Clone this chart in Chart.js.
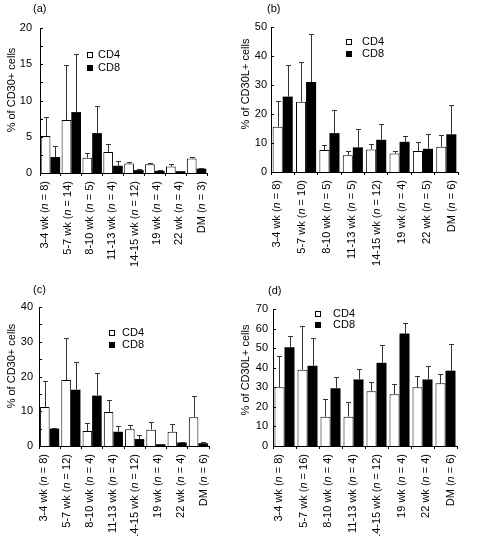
<!DOCTYPE html>
<html>
<head>
<meta charset="utf-8">
<script src="https://cdn.jsdelivr.net/npm/chart.js@4.4.1/dist/chart.umd.min.js"></script>
<style>
  html, body { margin: 0; padding: 0; background: #fff; }
  #wrap { position: relative; width: 480px; height: 536px; }
  .panel { position: absolute; width: 240px; height: 268px; }
</style>
</head>
<body>
<div id="wrap">
  <div class="panel" style="left:0;top:0"><canvas id="pa" width="240" height="268"></canvas></div>
  <div class="panel" style="left:240px;top:0"><canvas id="pb" width="240" height="268"></canvas></div>
  <div class="panel" style="left:0;top:268px"><canvas id="pc" width="240" height="268"></canvas></div>
  <div class="panel" style="left:240px;top:268px"><canvas id="pd" width="240" height="268"></canvas></div>
</div>
<script>
// groups (x categories) and n per panel
const groups = ["3-4 wk", "5-7 wk", "8-10 wk", "11-13 wk", "14-15 wk", "19 wk", "22 wk", "DM"];
const nA = [8, 14, 5, 4, 12, 4, 4, 3];
const nB = [8, 10, 5, 5, 12, 4, 5, 6];
const nC = [8, 12, 4, 4, 12, 4, 4, 6];
const nD = [8, 16, 4, 4, 12, 4, 4, 6];

// (a) % of CD30+ cells
const cd4A = [5.1, 7.3, 2.1, 2.9, 1.3, 1.2, 0.9, 2.0];
const cd4SdA = [2.6, 7.6, 0.7, 1.1, 0.2, 0.2, 0.4, 0.2];
const cd8A = [2.2, 8.4, 5.5, 1.0, 0.4, 0.3, 0.25, 0.6];
const cd8SdA = [1.5, 8.0, 3.8, 0.6, 0.1, 0.05, 0.05, 0.1];

// (b) % of CD30L+ cells
const cd4B = [15.6, 24.2, 7.6, 5.8, 7.8, 6.4, 7.2, 8.7];
const cd4SdB = [8.9, 13.6, 1.7, 1.5, 2.0, 1.0, 3.0, 4.0];
const cd8B = [26.0, 31.0, 13.4, 8.5, 11.1, 10.4, 8.0, 13.0];
const cd8SdB = [11.0, 16.5, 8.1, 6.4, 5.3, 2.0, 5.1, 10.1];

// (c) % of CD30+ cells
const cd4C = [11.2, 19.0, 4.3, 9.8, 4.8, 4.7, 4.1, 8.3];
const cd4SdC = [7.5, 12.2, 2.3, 3.3, 1.1, 2.3, 2.3, 6.0];
const cd8C = [5.0, 16.2, 14.5, 4.1, 2.0, 0.5, 1.0, 0.8];
const cd8SdC = [0.3, 8.0, 6.6, 1.7, 1.2, 0.1, 0.2, 0.4];

// (d) % of CD30L+ cells
const cd4D = [30, 39, 15, 15, 28, 26.5, 30, 32];
const cd4SdD = [16, 22.5, 9, 7.5, 4.5, 5, 6, 5];
const cd8D = [50.5, 41, 29.5, 34, 42.5, 57.5, 34, 38.5];
const cd8SdD = [5.5, 14, 6, 5.5, 9, 5.5, 7, 13.5];

const FONT = '"Liberation Sans", Arial, Helvetica, sans-serif';
Chart.defaults.font.family = FONT;
Chart.defaults.font.size = 11;
Chart.defaults.color = '#000';

// error bars, inward y ticks, and all the extra text
const panelPlugin = {
  id: 'panel',
  afterDatasetsDraw(chart, args, opts) {
    const ctx = chart.ctx;
    const y = chart.scales.y;
    ctx.save();
    ctx.strokeStyle = '#333';
    ctx.lineWidth = 1;
    opts.errors.forEach((err, d) => {
      const vals = chart.data.datasets[d].data;
      chart.getDatasetMeta(d).data.forEach((bar, i) => {
        const top = Math.round(y.getPixelForValue(vals[i] + err[i])) + 0.5;
        const x = Math.round(bar.x) + 0.5;
        ctx.beginPath();
        ctx.moveTo(x, bar.y);
        ctx.lineTo(x, top);
        ctx.moveTo(x - 2.5, top);
        ctx.lineTo(x + 2.5, top);
        ctx.stroke();
      });
    });
    ctx.restore();
  },
  afterDraw(chart, args, opts) {
    const ctx = chart.ctx;
    const area = chart.chartArea;
    const y = chart.scales.y;
    const xs = chart.scales.x;
    ctx.save();
    ctx.fillStyle = '#000';
    ctx.strokeStyle = '#000';

    // inward y ticks
    ctx.lineWidth = 1;
    y.ticks.forEach(t => {
      const py = Math.round(y.getPixelForValue(t.value)) + 0.5;
      ctx.beginPath();
      ctx.moveTo(area.left, py);
      ctx.lineTo(area.left + 3, py);
      ctx.stroke();
    });

    // panel letter
    ctx.font = '11px ' + FONT;
    ctx.textAlign = 'left';
    ctx.textBaseline = 'middle';
    ctx.fillText(opts.letter, opts.letterPos[0], opts.letterPos[1]);

    // y title
    ctx.save();
    ctx.translate(opts.titlePos[0], opts.titlePos[1]);
    ctx.rotate(-Math.PI / 2);
    ctx.textAlign = 'center';
    ctx.fillText(opts.title, 0, 0);
    ctx.restore();

    // legend
    const lg = opts.legend;
    [['CD4', '#fff'], ['CD8', '#000']].forEach(([name, fill], k) => {
      const cy = lg.y[k];
      ctx.fillStyle = fill;
      ctx.fillRect(lg.x, cy - 3, 6, 6);
      ctx.strokeStyle = '#000';
      ctx.strokeRect(lg.x + 0.5, cy - 2.5, 5, 5);
      ctx.fillStyle = '#000';
      ctx.font = '11px ' + FONT;
      ctx.textAlign = 'left';
      ctx.fillText(name, lg.textX, cy);
    });

    // rotated x labels with italic n
    groups.forEach((g, i) => {
      const x = xs.getPixelForValue(i) + (i - 3.5) * opts.spread;
      const parts = [[g + ' (', 'normal'], ['n', 'italic'], [' = ' + opts.n[i] + ')', 'normal']];
      let total = 0;
      parts.forEach(([t, st]) => { ctx.font = st + ' 11px ' + FONT; total += ctx.measureText(t).width; });
      ctx.save();
      ctx.translate(Math.round(x), area.bottom + 8);
      ctx.rotate(-Math.PI / 2);
      ctx.textAlign = 'left';
      ctx.textBaseline = 'middle';
      let cx = -total;
      parts.forEach(([t, st]) => {
        ctx.font = st + ' 11px ' + FONT;
        ctx.fillText(t, cx, 0);
        cx += ctx.measureText(t).width;
      });
      ctx.restore();
    });
    ctx.restore();
  }
};

function makePanel(id, p) {
  const H = 268, W = 240;
  new Chart(document.getElementById(id), {
    type: 'bar',
    data: {
      labels: groups,
      datasets: [
        { label: 'CD4', data: p.cd4, backgroundColor: '#fff', borderColor: '#000', borderWidth: 1,
          categoryPercentage: p.catPct, barPercentage: 1 },
        { label: 'CD8', data: p.cd8, backgroundColor: '#000', borderColor: '#000', borderWidth: 0,
          categoryPercentage: p.catPct, barPercentage: 1 }
      ]
    },
    options: {
      responsive: false,
      animation: false,
      events: [],
      layout: { padding: { left: 0, top: p.area.top, right: W - p.area.right, bottom: 0 } },
      scales: {
        x: {
          grid: { display: true, drawOnChartArea: false, drawTicks: true, tickLength: 3, color: '#000', offset: true },
          border: { display: true, color: '#000', width: 1 },
          ticks: { display: false },
          afterFit: s => { s.height = H - p.area.bottom; }
        },
        y: {
          min: 0,
          max: p.max,
          grid: { display: false, drawTicks: false },
          border: { display: true, color: '#000', width: 1 },
          ticks: {
            stepSize: p.step,
            padding: p.tickPad,
            callback: v => (v % p.labelEvery === 0 ? v : '')
          },
          afterFit: s => { s.width = p.area.left; }
        }
      },
      plugins: {
        legend: { display: false },
        tooltip: { enabled: false },
        panel: {
          errors: [p.cd4Sd, p.cd8Sd],
          letter: p.letter,
          letterPos: p.letterPos,
          title: p.title,
          titlePos: p.titlePos,
          legend: p.legend,
          n: p.n,
          spread: 1.5
        }
      }
    },
    plugins: [panelPlugin]
  });
}

makePanel('pa', {
  cd4: cd4A, cd4Sd: cd4SdA, cd8: cd8A, cd8Sd: cd8SdA, n: nA,
  max: 20, step: 2.5, labelEvery: 5, tickPad: 8, catPct: 0.93,
  area: { left: 40, top: 28, right: 207, bottom: 173 },
  letter: '(a)', letterPos: [33, 9],
  title: '% of CD30+ cells', titlePos: [12, 90],
  legend: { x: 87, y: [55, 68], textX: 98 }
});

makePanel('pb', {
  cd4: cd4B, cd4Sd: cd4SdB, cd8: cd8B, cd8Sd: cd8SdB, n: nB,
  max: 50, step: 10, labelEvery: 10, tickPad: 4, catPct: 0.86,
  area: { left: 31, top: 27, right: 218, bottom: 172 },
  letter: '(b)', letterPos: [27, 9],
  title: '% of CD30L+ cells', titlePos: [6, 84],
  legend: { x: 106, y: [42, 54], textX: 122 }
});

makePanel('pc', {
  cd4: cd4C, cd4Sd: cd4SdC, cd8: cd8C, cd8Sd: cd8SdC, n: nC,
  max: 40, step: 5, labelEvery: 10, tickPad: 6, catPct: 0.9,
  area: { left: 39, top: 39, right: 209, bottom: 178 },
  letter: '(c)', letterPos: [33, 22],
  title: '% of CD30+ cells', titlePos: [12, 98],
  legend: { x: 109, y: [65, 77], textX: 122 }
});

makePanel('pd', {
  cd4: cd4D, cd4Sd: cd4SdD, cd8: cd8D, cd8Sd: cd8SdD, n: nD,
  max: 70, step: 10, labelEvery: 10, tickPad: 5, catPct: 0.87,
  area: { left: 33, top: 41, right: 217, bottom: 178 },
  letter: '(d)', letterPos: [28, 23],
  title: '% of CD30L+ cells', titlePos: [6, 102],
  legend: { x: 75, y: [46, 57], textX: 93 }
});
</script>
</body>
</html>
